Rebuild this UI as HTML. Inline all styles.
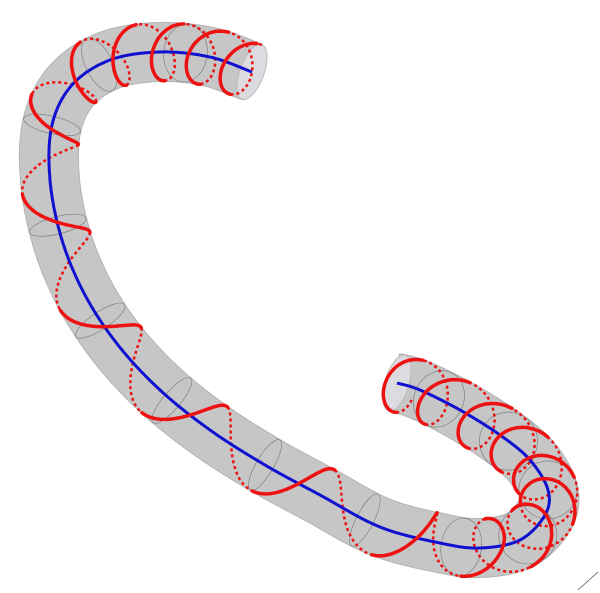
<!DOCTYPE html>
<html><head><meta charset="utf-8"><style>
html,body{margin:0;padding:0;background:#fff;}
svg{display:block;}
</style></head><body>
<svg id="chart" width="600" height="593" viewBox="0 0 600 593">
<g id="tube"></g>
<g id="rings"></g>
<g id="back"></g>
<path id="center" fill="none" stroke="#1010d0" stroke-width="3"/>
<g id="front"></g>
<line x1="578" y1="590" x2="598" y2="572" stroke="#555" stroke-width="0.8"/>
</svg>
<script>
const centerX = [252,210,160,110,72,52,50,62,85,118,160,210,265,320,380,440,480,520,545,548,530,500,460,420,397];
const centerY = [72,57,52,60,85,125,180,240,295,345,390,430,465,495,527,543,548,540,515,490,460,435,410,390,383];
// helix turns per segment between control points
const turnsPerSeg = [1.3,1.3,1.1,0.9,0.7,0.6,0.6,0.5,0.5,0.5,0.5,0.5,0.5,0.5,0.6,0.7,0.8,0.9,1,1,1,1,0.9,0.8];
// foreshortening of helix along tangent per control point
const depthK = [0.8,0.8,0.7,0.5,0.35,0.25,0.25,0.25,0.25,0.25,0.25,0.25,0.25,0.25,0.3,0.5,0.9,1,1,1,1,1,0.9,0.8,0.7];
const R = 29;
const NS = "http://www.w3.org/2000/svg";
function cr(p0,p1,p2,p3,t){const t2=t*t,t3=t2*t;return 0.5*((2*p1)+(-p0+p2)*t+(2*p0-5*p1+4*p2-p3)*t2+(-p0+3*p1-3*p2+p3)*t3);}
const pts=[];const n=centerX.length;const SUB=40;let phi=0;
for(let i=0;i<n-1;i++){
 for(let s=0;s<SUB;s++){
  const t=s/SUB;
  const i0=Math.max(0,i-1),i3=Math.min(n-1,i+2);
  const x=cr(centerX[i0],centerX[i],centerX[i+1],centerX[i3],t);
  const y=cr(centerY[i0],centerY[i],centerY[i+1],centerY[i3],t);
  const k=depthK[i]*(1-t)+depthK[i+1]*t;
  pts.push({x,y,phi,k});
  phi+=2*Math.PI*turnsPerSeg[i]/SUB;
 }
}
pts.push({x:centerX[n-1],y:centerY[n-1],phi,k:depthK[n-1]});
for(let i=0;i<pts.length;i++){
 const a=pts[Math.max(0,i-1)],b=pts[Math.min(pts.length-1,i+1)];
 let tx=b.x-a.x,ty=b.y-a.y;const L=Math.hypot(tx,ty)||1;tx/=L;ty/=L;
 pts[i].tx=tx;pts[i].ty=ty;
}
const d=pts.map((p,i)=>(i?'L':'M')+p.x.toFixed(1)+' '+p.y.toFixed(1)).join('');
const tube=document.getElementById('tube');
const outline=document.createElementNS(NS,'path');


outline.setAttribute('d',d);outline.setAttribute('fill','none');outline.setAttribute('stroke','#b4b4b4');outline.setAttribute('stroke-width',2*R+2);
tube.appendChild(outline);
const body=document.createElementNS(NS,'path');


body.setAttribute('d',d);body.setAttribute('fill','none');body.setAttribute('stroke','#c6c6c6');body.setAttribute('stroke-width',2*R);
tube.appendChild(body);
[[0,1],[pts.length-1,-1]].forEach(([idx,dir])=>{
 const p=pts[idx];
 const e=document.createElementNS(NS,'ellipse');
 
 
 const ang=Math.atan2(p.ty,p.tx)*180/Math.PI;
 e.setAttribute('cx',p.x);e.setAttribute('cy',p.y);e.setAttribute('rx',12);e.setAttribute('ry',R);
 e.setAttribute('transform','rotate('+ang+' '+p.x+' '+p.y+')');
 e.setAttribute('fill','#dcdce0');e.setAttribute('stroke','#bbb');
 tube.appendChild(e);
});
const rings=document.getElementById('rings');
for(let i=60;i<pts.length-20;i+=70){
 const p=pts[i];const e=document.createElementNS(NS,'ellipse');
 
 
 const ang=Math.atan2(p.ty,p.tx)*180/Math.PI;
 e.setAttribute('cx',p.x);e.setAttribute('cy',p.y);e.setAttribute('rx',R*Math.max(0.3,p.k));e.setAttribute('ry',R);
 e.setAttribute('transform','rotate('+ang+' '+p.x+' '+p.y+')');
 e.setAttribute('fill','none');e.setAttribute('stroke','#777');e.setAttribute('stroke-width','0.6');
 rings.appendChild(e);
}
document.getElementById('center').setAttribute('d',d);
let cur=null,curFront=null;const segs=[];
pts.forEach(p=>{
 const nx=-p.ty,ny=p.tx;
 const c=Math.cos(p.phi),s=Math.sin(p.phi);
 const x=p.x+nx*R*c+p.tx*R*p.k*s, y=p.y+ny*R*c+p.ty*R*p.k*s;
 const front=s>0;
 if(front!==curFront){ if(cur) cur.pts.push([x,y]); cur={front,pts:[[x,y]]};segs.push(cur);curFront=front;}
 else cur.pts.push([x,y]);
});
segs.forEach(sg=>{
 const el=document.createElementNS(NS,'path');
 
 
 el.setAttribute('d',sg.pts.map((q,i)=>(i?'L':'M')+q[0].toFixed(1)+' '+q[1].toFixed(1)).join(''));
 el.setAttribute('fill','none');el.setAttribute('stroke','#ee1111');
 if(sg.front){el.setAttribute('stroke-width','3.5');el.setAttribute('stroke-linecap','round');}
 else{el.setAttribute('stroke-width','2.5');el.setAttribute('stroke-dasharray','3 3');}
 document.getElementById(sg.front?'front':'back').appendChild(el);
});
</script>
</body></html>
